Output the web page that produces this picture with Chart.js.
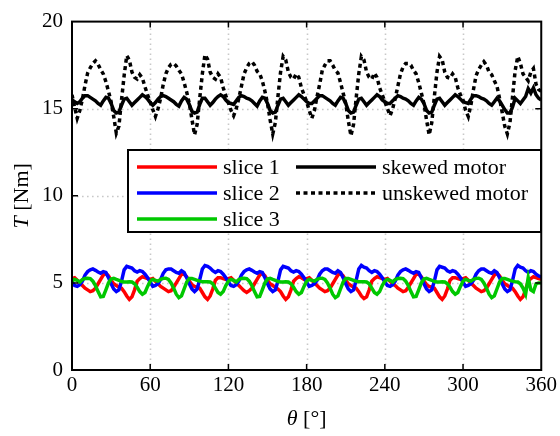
<!DOCTYPE html>
<html><head><meta charset="utf-8">
<script src="https://cdn.jsdelivr.net/npm/chart.js@4"></script>
<style>html,body{margin:0;padding:0;background:#fff}#wrap{width:560px;height:436px;position:relative}</style>
</head><body><div id="wrap"><canvas id="c" width="560" height="436"></canvas></div>
<script>
// rotor angle theta [deg]
const theta = [
0,2,4,6,8,10,12,14,16,18,20,22,24,26,28,30,32,34,36,38,40,42,44,46,48,50,52,54,56,58,
60,62,64,66,68,70,72,74,76,78,80,82,84,86,88,90,92,94,96,98,100,102,104,106,108,110,112,114,116,118,
120,122,124,126,128,130,132,134,136,138,140,142,144,146,148,150,152,154,156,158,160,162,164,166,168,170,172,174,176,178,
180,182,184,186,188,190,192,194,196,198,200,202,204,206,208,210,212,214,216,218,220,222,224,226,228,230,232,234,236,238,
240,242,244,246,248,250,252,254,256,258,260,262,264,266,268,270,272,274,276,278,280,282,284,286,288,290,292,294,296,298,
300,302,304,306,308,310,312,314,316,318,320,322,324,326,328,330,332,334,336,338,340,342,344,346,348,350,352,354,356,358,360];

const slice1 = [
5.25,5.3,5.15,5.0,4.85,4.7,4.6,4.5,4.55,4.7,4.95,5.2,5.45,5.55,5.4,5.15,4.95,4.85,4.75,4.7,4.5,4.25,4.05,4.2,4.6,5.1,5.25,5.35,5.3,5.25,
5.2,5.25,5.1,4.95,4.8,4.7,4.6,4.5,4.55,4.75,5.0,5.25,5.5,5.5,5.35,5.1,4.9,4.8,4.75,4.7,4.45,4.2,4.05,4.25,4.65,5.15,5.3,5.3,5.25,5.2,
5.25,5.3,5.15,5.0,4.85,4.7,4.55,4.45,4.55,4.7,4.95,5.2,5.45,5.55,5.4,5.15,4.95,4.85,4.75,4.65,4.5,4.25,4.05,4.2,4.6,5.1,5.25,5.35,5.3,5.2,
5.25,5.3,5.15,5.0,4.85,4.7,4.6,4.5,4.55,4.7,4.95,5.2,5.45,5.55,5.4,5.15,4.95,4.85,4.75,4.7,4.5,4.25,4.1,4.2,4.6,5.1,5.25,5.35,5.3,5.25,
5.2,5.25,5.1,4.95,4.85,4.7,4.6,4.5,4.55,4.75,5.0,5.25,5.5,5.5,5.35,5.1,4.9,4.8,4.75,4.7,4.45,4.2,4.05,4.25,4.65,5.15,5.3,5.3,5.25,5.2,
5.25,5.3,5.15,5.0,4.85,4.7,4.6,4.5,4.55,4.7,4.95,5.2,5.45,5.55,5.4,5.15,4.95,4.85,4.75,4.7,4.5,4.25,4.05,4.2,4.6,5.1,5.25,5.35,5.3,5.25,5.2];

const slice2 = [
5.05,4.85,4.8,4.9,5.1,5.45,5.65,5.75,5.8,5.72,5.63,5.55,5.65,5.6,5.3,4.95,4.65,4.5,4.6,5.1,5.75,5.95,5.9,5.85,5.7,5.62,5.7,5.65,5.5,5.3,
5.05,4.8,4.85,4.95,5.2,5.55,5.75,5.8,5.8,5.7,5.6,5.55,5.7,5.6,5.3,4.95,4.65,4.5,4.65,5.2,5.8,6.0,5.95,5.85,5.7,5.6,5.7,5.65,5.5,5.3,
5.05,4.85,4.8,4.9,5.1,5.45,5.65,5.75,5.8,5.72,5.63,5.55,5.65,5.6,5.3,4.95,4.65,4.5,4.6,5.1,5.75,5.95,5.9,5.85,5.7,5.62,5.7,5.65,5.5,5.3,
5.05,4.8,4.85,4.95,5.15,5.5,5.7,5.8,5.8,5.7,5.6,5.55,5.7,5.6,5.3,4.95,4.65,4.5,4.6,5.15,5.8,6.0,5.9,5.85,5.7,5.6,5.7,5.65,5.5,5.3,
5.05,4.85,4.8,4.9,5.1,5.45,5.65,5.75,5.8,5.72,5.63,5.55,5.65,5.6,5.3,4.95,4.65,4.5,4.6,5.1,5.75,5.95,5.9,5.85,5.7,5.62,5.7,5.65,5.5,5.3,
5.05,4.8,4.85,4.95,5.15,5.5,5.7,5.8,5.8,5.7,5.6,5.55,5.7,5.6,5.3,4.95,4.65,4.5,4.6,5.15,5.8,6.0,5.9,5.85,5.7,5.6,5.7,5.65,5.5,5.4,5.35];

const slice3 = [
5.1,5.2,5.15,5.05,5.2,5.25,5.27,5.25,5.1,4.85,4.5,4.2,4.22,4.6,5.0,5.22,5.26,5.2,5.15,5.08,5.05,5.05,5.07,5.05,4.95,4.75,4.5,4.35,4.45,4.8,
5.1,5.2,5.15,5.1,5.2,5.26,5.27,5.2,5.0,4.7,4.35,4.15,4.25,4.65,5.05,5.25,5.25,5.2,5.15,5.1,5.07,5.07,5.07,5.05,4.95,4.7,4.45,4.35,4.5,4.85,
5.1,5.2,5.15,5.05,5.2,5.25,5.27,5.25,5.1,4.85,4.5,4.2,4.22,4.6,5.0,5.22,5.26,5.2,5.15,5.08,5.05,5.05,5.07,5.05,4.95,4.75,4.5,4.35,4.45,4.8,
5.1,5.2,5.15,5.1,5.2,5.26,5.27,5.2,5.0,4.7,4.35,4.15,4.25,4.65,5.05,5.25,5.25,5.2,5.15,5.1,5.07,5.07,5.07,5.05,4.95,4.7,4.45,4.35,4.5,4.85,
5.1,5.2,5.15,5.05,5.2,5.25,5.27,5.25,5.1,4.85,4.5,4.2,4.22,4.6,5.0,5.22,5.26,5.2,5.15,5.08,5.05,5.05,5.07,5.05,4.95,4.75,4.5,4.35,4.45,4.8,
5.1,5.2,5.15,5.1,5.2,5.26,5.27,5.2,5.0,4.7,4.35,4.15,4.25,4.65,5.05,5.25,5.25,5.2,5.15,5.1,5.07,5.05,4.95,4.7,4.35,5.3,4.6,4.5,4.95,5.0,5.0];

const skewedMotor = [
15.5,15.4,15.3,15.4,15.6,15.75,15.75,15.65,15.55,15.45,15.3,15.2,15.45,15.65,15.6,15.3,14.9,14.75,14.8,15.2,15.55,15.6,15.4,15.2,15.35,15.5,15.65,15.8,15.7,15.55,
15.35,15.2,15.35,15.55,15.7,15.75,15.7,15.6,15.5,15.4,15.25,15.15,15.45,15.65,15.55,15.25,14.85,14.75,14.8,15.25,15.6,15.6,15.4,15.2,15.35,15.55,15.7,15.8,15.7,15.5,
15.35,15.3,15.25,15.45,15.65,15.75,15.7,15.6,15.55,15.45,15.3,15.15,15.45,15.65,15.6,15.3,14.9,14.75,14.8,15.2,15.55,15.6,15.4,15.2,15.35,15.5,15.65,15.8,15.7,15.55,
15.4,15.3,15.3,15.45,15.6,15.75,15.75,15.65,15.55,15.45,15.3,15.2,15.45,15.65,15.6,15.3,14.9,14.75,14.8,15.2,15.55,15.6,15.4,15.2,15.35,15.5,15.65,15.8,15.7,15.5,
15.4,15.3,15.3,15.45,15.6,15.75,15.7,15.6,15.55,15.45,15.3,15.2,15.45,15.65,15.55,15.3,14.9,14.75,14.8,15.2,15.55,15.6,15.4,15.2,15.35,15.5,15.65,15.8,15.7,15.55,
15.4,15.35,15.3,15.55,15.75,15.75,15.7,15.6,15.55,15.45,15.3,15.2,15.4,15.6,15.45,15.2,14.95,14.75,14.75,15.1,15.6,15.45,15.3,15.5,15.7,16.15,15.9,16.2,15.8,15.6,15.5];

const unskewedMotor = [
15.8,15.1,14.45,14.9,15.55,16.35,17.05,17.35,17.6,17.75,17.55,17.25,17.0,16.55,16.0,15.4,14.55,13.6,14.0,15.5,16.9,18.05,17.8,17.1,16.8,16.7,16.95,16.75,16.25,15.8,
15.4,14.95,14.55,15.0,15.6,16.4,17.0,17.35,17.55,17.6,17.45,17.2,17.0,16.5,15.95,15.3,14.4,13.5,14.1,15.6,17.0,18.1,17.85,17.1,16.8,16.7,17.0,16.8,16.2,15.75,
15.35,14.9,14.6,15.0,15.6,16.3,17.0,17.35,17.6,17.7,17.5,17.15,17.0,16.6,16.0,15.3,14.35,13.55,14.2,15.7,17.1,18.0,17.8,17.1,16.8,16.7,17.0,16.8,16.2,15.8,
15.4,14.9,14.45,14.9,15.7,16.4,17.2,17.5,17.75,17.75,17.5,17.2,17.05,16.5,15.9,15.3,14.3,13.45,14.1,15.6,17.0,18.0,17.8,17.1,16.8,16.7,17.05,16.8,16.2,15.8,
15.4,15.0,14.6,15.0,15.6,16.3,17.0,17.4,17.6,17.6,17.5,17.2,17.0,16.5,15.9,15.3,14.35,13.5,14.2,15.7,17.1,18.0,17.8,17.1,16.8,16.75,17.0,16.8,16.2,15.8,
15.5,14.9,14.55,15.2,16.1,16.9,17.25,17.5,17.7,17.5,17.1,16.95,16.6,16.3,15.6,14.8,14.0,13.55,14.2,15.7,17.2,18.0,17.6,17.0,16.8,16.6,17.1,17.3,16.4,16.1,16.0];

const xTicks = [0,60,120,180,240,300,360];
const yTicks = [0,5,10,15,20];
const seriesNames = ['slice 1','slice 2','slice 3','skewed motor','unskewed motor'];
const seriesValues = [slice1, slice2, slice3, skewedMotor, unskewedMotor];
const seriesColors = ['#ff0000','#0000ff','#00c800','#000000','#000000'];
const seriesDash = [[],[],[],[],[4,3.5]];

const SERIF = '"Liberation Serif","Times New Roman",serif';
const LW = 3.5;

const datasets = seriesValues.map((vals, k) => ({
  label: seriesNames[k],
  data: theta.map((t, i) => ({x: t, y: vals[i]})),
  borderColor: seriesColors[k],
  backgroundColor: seriesColors[k],
  borderWidth: LW,
  borderDash: seriesDash[k],
  borderCapStyle: 'butt',
  pointRadius: 0,
  tension: 0,
  fill: false,
  order: 5 - k
}));

const framePlugin = {
  id: 'frame',
  beforeDatasetsDraw(chart) {
    const {ctx, chartArea: a, scales: {x, y}} = chart;
    ctx.save();
    ctx.strokeStyle = '#c8c8c8';
    ctx.lineWidth = 1.6;
    ctx.setLineDash([1.6, 3.4]);
    xTicks.slice(1, -1).forEach(v => {
      const px = Math.round(x.getPixelForValue(v)) + 0.5;
      ctx.beginPath(); ctx.moveTo(px, a.bottom); ctx.lineTo(px, a.top); ctx.stroke();
    });
    yTicks.slice(1, -1).forEach(v => {
      const py = Math.round(y.getPixelForValue(v)) + 0.5;
      ctx.beginPath(); ctx.moveTo(a.left, py); ctx.lineTo(a.right, py); ctx.stroke();
    });
    ctx.restore();
  },
  afterDraw(chart) {
    const {ctx, chartArea: a, scales: {x, y}} = chart;
    ctx.save();
    // frame
    ctx.strokeStyle = '#000';
    ctx.lineWidth = 2;
    ctx.setLineDash([]);
    ctx.strokeRect(a.left, a.top, a.right - a.left, a.bottom - a.top);
    // inward tick marks
    ctx.lineWidth = 1.5;
    const tl = 6;
    xTicks.slice(1, -1).forEach(v => {
      const px = x.getPixelForValue(v);
      ctx.beginPath();
      ctx.moveTo(px, a.bottom); ctx.lineTo(px, a.bottom - tl);
      ctx.moveTo(px, a.top); ctx.lineTo(px, a.top + tl);
      ctx.stroke();
    });
    yTicks.slice(1, -1).forEach(v => {
      const py = y.getPixelForValue(v);
      ctx.beginPath();
      ctx.moveTo(a.left, py); ctx.lineTo(a.left + tl, py);
      ctx.moveTo(a.right, py); ctx.lineTo(a.right - tl, py);
      ctx.stroke();
    });
    // legend box
    const L = {x0: 128, y0: 150, x1: 541, y1: 232};
    ctx.fillStyle = '#fff';
    ctx.fillRect(L.x0, L.y0, L.x1 - L.x0, L.y1 - L.y0);
    ctx.lineWidth = 2;
    ctx.strokeRect(L.x0, L.y0, L.x1 - L.x0, L.y1 - L.y0);
    const cols = [137, 296];
    const rows = [167, 193, 219];
    const slots = [[0,0],[0,1],[0,2],[1,0],[1,1]];
    ctx.font = '22px ' + SERIF;
    ctx.textBaseline = 'middle';
    ctx.textAlign = 'left';
    chart.data.datasets.forEach((ds, k) => {
      const [c, r] = slots[k];
      const lx = cols[c], ly = rows[r];
      ctx.strokeStyle = ds.borderColor;
      ctx.lineWidth = LW;
      ctx.lineCap = 'butt';
      ctx.setLineDash(ds.borderDash || []);
      ctx.beginPath(); ctx.moveTo(lx, ly); ctx.lineTo(lx + 80, ly); ctx.stroke();
      ctx.setLineDash([]);
      ctx.fillStyle = '#000';
      ctx.fillText(ds.label, lx + 86, ly + 1);
    });
    // axis titles
    ctx.fillStyle = '#000';
    ctx.textBaseline = 'middle';
    const it = 'italic 22px ' + SERIF, rm = '22px ' + SERIF;
    // x title
    ctx.font = it; const w1 = ctx.measureText('θ').width;
    ctx.font = rm; const w2 = ctx.measureText(' [°]').width;
    let cx = (a.left + a.right) / 2 - (w1 + w2) / 2;
    ctx.font = it; ctx.fillText('θ', cx, 419);
    ctx.font = rm; ctx.fillText(' [°]', cx + w1, 419);
    // y title
    ctx.save();
    ctx.translate(22, (a.top + a.bottom) / 2);
    ctx.rotate(-Math.PI / 2);
    ctx.font = it; const v1 = ctx.measureText('T').width;
    ctx.font = rm; const v2 = ctx.measureText(' [Nm]').width;
    const sx = -(v1 + v2) / 2;
    ctx.font = it; ctx.fillText('T', sx, 0);
    ctx.font = rm; ctx.fillText(' [Nm]', sx + v1, 0);
    ctx.restore();
    ctx.restore();
  }
};

new Chart(document.getElementById('c'), {
  type: 'line',
  data: {datasets},
  options: {
    responsive: false,
    devicePixelRatio: 1,
    animation: false,
    layout: {padding: {left: 0, right: 18, top: 15, bottom: 0}},
    plugins: {legend: {display: false}, tooltip: {enabled: false}},
    scales: {
      x: {
        type: 'linear', min: 0, max: 360,
        afterBuildTicks: s => { s.ticks = xTicks.map(v => ({value: v})); },
        afterFit: s => { s.height = 66; },
        grid: {display: false, drawTicks: false},
        border: {display: false},
        ticks: {color: '#000', padding: 3, maxRotation: 0, font: {family: SERIF, size: 21}}
      },
      y: {
        type: 'linear', min: 0, max: 20,
        afterBuildTicks: s => { s.ticks = yTicks.map(v => ({value: v})); },
        afterFit: s => { s.width = 72; },
        grid: {display: false, drawTicks: false},
        border: {display: false},
        ticks: {color: '#000', padding: 9, font: {family: SERIF, size: 21}}
      }
    }
  },
  plugins: [framePlugin]
});
</script>
</body></html>
